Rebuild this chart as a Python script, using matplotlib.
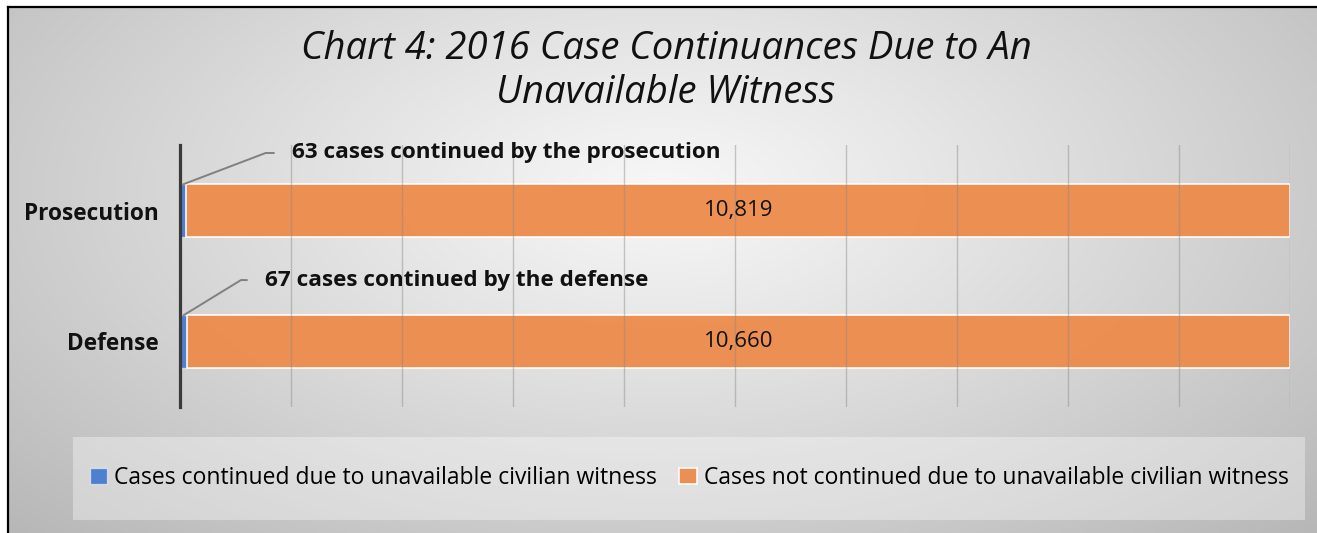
import numpy as np
import matplotlib
matplotlib.use("Agg")
import matplotlib.pyplot as plt
from matplotlib.patches import Rectangle
from matplotlib.lines import Line2D

# ---- data ----
categories = ["Defense", "Prosecution"]
continued = [67, 63]
not_continued = [10660, 10819]
annot_texts = ["67 cases continued by the defense", "63 cases continued by the prosecution"]
series_names = ["Cases continued due to unavailable civilian witness",
                "Cases not continued due to unavailable civilian witness"]
title = "Chart 4: 2016 Case Continuances Due to An\nUnavailable Witness"

FONT = "Open Sans"
W, H = 1317, 533
fig = plt.figure(figsize=(W / 100, H / 100), dpi=100)
fig.patch.set_facecolor("white")

# background radial gradient
bg = fig.add_axes([7 / W, 0, 1 - 7 / W, 1 - 6 / H], zorder=-10)
xx, yy = np.meshgrid(np.linspace(0, 1, 400), np.linspace(0, 1, 200))
dx = (xx - 0.5) / 0.5
dy = (yy - 0.35) / 0.65
d = np.sqrt(dx ** 2 + dy ** 2) / np.sqrt(2)
val = (247 - 64 * d ** 1.1) / 255.0
bg.imshow(np.dstack([val, val, val]), aspect="auto", extent=[0, 1, 1, 0])
bg.set_axis_off()

# border lines
fig.add_artist(Line2D([7.5 / W, 7.5 / W], [0, 1 - 6.5 / H], transform=fig.transFigure,
                      color="black", lw=1.6, zorder=5))
fig.add_artist(Line2D([7.5 / W, 1], [1 - 6.5 / H, 1 - 6.5 / H], transform=fig.transFigure,
                      color="black", lw=1.6, zorder=5))

# legend background box
fig.add_artist(Rectangle((73 / W, 1 - 520 / H), (1305 - 73) / W, 83 / H,
                         transform=fig.transFigure, facecolor="white", alpha=0.35,
                         edgecolor="none", zorder=-5))

ax = fig.add_axes([180 / W, 1 - 407 / H, 1110 / W, 262 / H])
ax.set_facecolor("none")

totals = np.array(continued) + np.array(not_continued)
share_c = np.array(continued) / totals
share_n = np.array(not_continued) / totals
y = np.arange(len(categories))
bh = 0.4

blue = "#4f7fcf"
orange = "#ed8b4b"
b1 = ax.barh(y, share_c, height=bh, color=blue, edgecolor=(1, 1, 1, 0.55), lw=1.0,
             label=series_names[0], zorder=2)
b2 = ax.barh(y, share_n, left=share_c, height=bh, color=orange, alpha=0.95,
             edgecolor=(1, 1, 1, 0.6), lw=1.2, label=series_names[1], zorder=2)
ax.bar_label(b2, labels=[f"{v:,}" for v in not_continued], label_type="center",
             fontsize=16, family=FONT, color="#111111")

ax.set_xlim(0, 1)
ax.set_ylim(-0.5, 1.5)
ax.set_xticks(np.linspace(0, 1, 11))
ax.xaxis.grid(True, color="#8a8a8a", alpha=0.45, lw=1.0, zorder=3)
ax.set_axisbelow(False)
ax.tick_params(axis="x", length=0, labelbottom=False)
ax.tick_params(axis="y", length=0, pad=15)
ax.set_yticks(y)
ax.set_yticklabels(categories, fontsize=16.3, fontweight="bold", family=FONT, color="#111111")
for s in ["top", "right", "bottom"]:
    ax.spines[s].set_visible(False)
ax.spines["left"].set_color("#3a3a3a")
ax.spines["left"].set_linewidth(2.3)
ax.spines["left"].set_zorder(4)

# annotations with leader lines
text_pos = [(0.0766, 0.469, 31.5), (0.1009, 1.439, 20.8)]
for i in range(len(categories)):
    tx, ty, ang = text_pos[i]
    ax.annotate(annot_texts[i], xy=(share_c[i] / 2, y[i] + bh / 2), xytext=(tx, ty),
                textcoords="data", ha="left", va="center", fontsize=16.2, fontweight="bold",
                family=FONT, color="#111111",
                arrowprops=dict(arrowstyle="-", color="#808080", lw=1.4,
                                shrinkA=11, shrinkB=0,
                                connectionstyle=f"angle,angleA=0,angleB={ang},rad=0"))

fig.text(666 / W, 1 - 71 / H, title, ha="center", va="center", fontsize=27.5,
         style="italic", family=FONT, color="#111111", linespacing=1.2)

fig.legend(handles=[b1, b2], labels=series_names, loc="center",
           bbox_to_anchor=(689 / W, 1 - 478 / H), ncol=2, frameon=False,
           handlelength=0.75, handleheight=0.75, handletextpad=0.3, columnspacing=1.0,
           prop={"family": FONT, "size": 16.5})

fig.savefig("out.png", dpi=100)
